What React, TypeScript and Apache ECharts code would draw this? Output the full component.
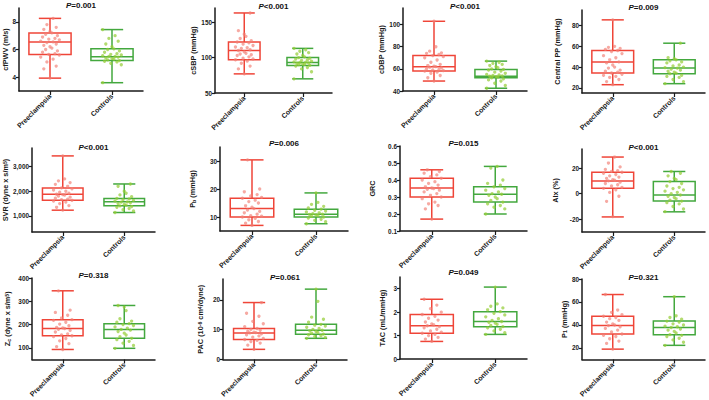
import React, { useEffect, useRef } from 'react';
import * as echarts from 'echarts';

// ---------- data ----------
const categories = ['Preeclampsia', 'Controls'];

const pOps = ['=', '<', '<', '=', '<', '=', '=', '<', '=', '=', '=', '='];
const pValues = ['0.001', '0.001', '0.001', '0.009', '0.001', '0.006', '0.015', '0.001', '0.318', '0.061', '0.049', '0.321'];

const yNames = [
  'cfPWV (m/s)',
  'cSBP (mmHg)',
  'cDBP (mmHg)',
  'Central PP (mmHg)',
  'SVR (dyne x s/m{sup|5})',
  'P{sub|b} (mmHg)',
  'GRC',
  'AIx (%)',
  'Z{sub|c} (dyne x s/m{sup|5})',
  'PAC (10{sup|-6} cm{sup|4}/dyne)',
  'TAC (mL/mmHg)',
  'P{sub|1} (mmHg)',
];

const yMin = [3, 50, 40, 15, 350, 5, 0.1, -30, 50, 0, 0, 10];
const yMax = [9, 170, 115, 95, 3750, 35, 0.6, 35, 400, 27, 3.5, 80];
const yTicks = [
  [4, 6, 8],
  [50, 100, 150],
  [40, 60, 80, 100],
  [20, 40, 60, 80],
  [1000, 2000, 3000],
  [10, 20, 30],
  [0.1, 0.2, 0.3, 0.4, 0.5, 0.6],
  [-20, 0, 20],
  [100, 200, 300, 400],
  [0, 10, 20],
  [0, 1, 2, 3],
  [20, 40, 60, 80],
];

// box stats: [min, Q1, median, Q3, max] for Preeclampsia, Controls
const boxPre = [
  [3.93, 5.64, 6.55, 7.19, 8.25],
  [77, 97, 110, 122, 163],
  [49, 58, 62, 72, 103],
  [23, 34.3, 44.8, 56, 85.5],
  [1233, 1633, 1878, 2135, 3430],
  [7, 10, 13, 16.7, 30.4],
  [0.17, 0.3, 0.353, 0.41, 0.46],
  [-18.2, 4.2, 10, 16.8, 28.7],
  [93, 152, 183, 221, 345],
  [3.4, 6.7, 8.9, 10.4, 19.1],
  [0.75, 1.1, 1.42, 1.9, 2.55],
  [19, 32.2, 39.5, 47.6, 66.5],
];
const boxCtrl = [
  [3.6, 5.2, 5.47, 6.05, 7.44],
  [70, 89, 93, 100, 113],
  [42.5, 52, 53.4, 59.5, 67],
  [24, 33.6, 39, 47, 63],
  [1139, 1408, 1571, 1710, 2294],
  [7.6, 10, 11, 12.8, 18.6],
  [0.2, 0.27, 0.316, 0.36, 0.48],
  [-14.2, -5.8, -1, 9.5, 17.4],
  [98, 141, 179, 204, 282],
  [7.1, 8.5, 9.8, 11.8, 23.6],
  [1.05, 1.38, 1.6, 2.02, 3.07],
  [22.3, 31.6, 37.8, 43.4, 64.6],
];

const ptsPre = [
  [3.93, 4.6, 4.8, 5.1, 5.3, 5.45, 5.6, 5.65, 5.7, 5.8, 5.9, 6.0, 6.1, 6.2, 6.3, 6.4, 6.5, 6.55, 6.6, 6.7, 6.75, 6.8, 6.9, 7.0, 7.1, 7.2, 7.3, 7.45, 7.6, 7.8, 8.25],
  [77, 84, 88, 92, 95, 97, 98, 99, 101, 103, 104, 105, 106, 108, 110, 111, 113, 114, 115, 117, 119, 121, 122, 124, 127, 130, 133, 138, 163],
  [49, 52, 54, 56, 57, 58, 58.5, 59, 59.5, 60, 61, 61.5, 62, 62.5, 63, 64, 66, 68, 70, 71, 72, 73, 74, 74.5, 76, 80, 103],
  [23, 26, 28, 30, 31, 32, 33, 34.3, 35, 36, 37, 39, 40, 42, 44, 45, 47, 49, 51, 53, 55, 56, 57, 58, 59, 60, 85.5],
  [1233, 1350, 1420, 1500, 1560, 1600, 1633, 1660, 1680, 1720, 1760, 1800, 1840, 1860, 1878, 1920, 1960, 2000, 2050, 2100, 2135, 2200, 2280, 2350, 2420, 2500, 3430],
  [7, 7.8, 8.4, 9, 9.5, 10, 10.3, 10.5, 11, 11.5, 12, 12.5, 13, 13.5, 14, 15, 15.5, 16, 16.7, 17, 17.5, 18, 19, 20, 30.4],
  [0.17, 0.23, 0.25, 0.26, 0.27, 0.29, 0.3, 0.31, 0.32, 0.33, 0.34, 0.345, 0.35, 0.353, 0.36, 0.37, 0.38, 0.39, 0.4, 0.41, 0.42, 0.43, 0.44, 0.45, 0.46],
  [-18, -6, -2, 1, 3, 4.2, 5, 6, 7, 8, 9, 10, 10.5, 11, 12, 13, 14, 15, 16, 16.8, 17.5, 18, 19, 21, 24, 28.7],
  [93, 105, 118, 130, 140, 148, 152, 156, 160, 168, 175, 180, 183, 186, 188, 195, 202, 210, 218, 221, 228, 240, 252, 262, 345],
  [3.4, 4.8, 5.5, 6, 6.4, 6.7, 7.1, 7.5, 7.9, 8.3, 8.6, 8.9, 9.0, 9.2, 9.5, 9.8, 10.1, 10.4, 11, 12, 12.8, 14.5, 15.5, 19.1],
  [0.75, 0.85, 0.92, 1.0, 1.05, 1.1, 1.15, 1.2, 1.27, 1.33, 1.38, 1.42, 1.46, 1.5, 1.58, 1.66, 1.74, 1.82, 1.9, 2.0, 2.15, 2.3, 2.55],
  [19, 24, 26, 28, 30, 31, 32.2, 34, 35.5, 37, 38.5, 39.5, 40, 41, 42.5, 44, 45.5, 46.5, 47.6, 49, 51, 53, 66.5],
];
const ptsCtrl = [
  [3.6, 4.9, 5.0, 5.1, 5.15, 5.2, 5.25, 5.3, 5.35, 5.4, 5.45, 5.5, 5.5, 5.55, 5.6, 5.65, 5.7, 5.8, 5.9, 6.0, 6.05, 6.2, 6.4, 6.6, 6.8, 7.0, 7.44],
  [70, 80, 84, 86, 88, 89, 90, 90.5, 91, 92, 92.5, 93, 93.5, 94, 95, 96, 97, 98, 99, 100, 101, 103, 105, 107, 109, 111, 113],
  [42.5, 45, 47, 49, 50, 51, 52, 52.5, 53, 53.3, 53.6, 54, 54.5, 55, 56, 57, 58, 59, 59.5, 60, 61, 62, 63, 64, 65, 66, 67],
  [24, 26, 28, 30, 31, 32, 33.6, 34, 35, 36, 37, 38, 39, 39.5, 40, 41, 42, 44, 45, 46, 47, 48, 49, 63],
  [1139, 1200, 1250, 1300, 1350, 1380, 1408, 1440, 1470, 1500, 1530, 1560, 1571, 1600, 1630, 1660, 1690, 1710, 1780, 1850, 1920, 2000, 2200, 2294],
  [7.6, 8.3, 8.8, 9.2, 9.6, 10, 10.2, 10.5, 10.7, 10.9, 11, 11.2, 11.5, 11.8, 12.1, 12.4, 12.8, 13.2, 13.8, 14.5, 15.2, 18.6],
  [0.2, 0.23, 0.24, 0.25, 0.26, 0.27, 0.28, 0.29, 0.3, 0.31, 0.316, 0.32, 0.33, 0.34, 0.35, 0.36, 0.37, 0.38, 0.4, 0.47, 0.48],
  [-14, -12, -10, -8, -7, -5.8, -5, -4, -3, -2, -1, 0, 1, 2, 3, 4, 5, 6, 8, 9.5, 11, 12, 14, 16, 17.4],
  [98, 110, 120, 128, 135, 141, 148, 155, 163, 170, 176, 179, 184, 190, 196, 200, 204, 210, 215, 225, 260, 275, 282],
  [7.1, 7.4, 7.7, 8, 8.3, 8.5, 8.8, 9.1, 9.4, 9.6, 9.8, 10.1, 10.4, 10.8, 11.2, 11.5, 11.8, 12.5, 13.5, 14.2, 19.5, 23.6],
  [1.05, 1.12, 1.2, 1.27, 1.33, 1.38, 1.43, 1.48, 1.53, 1.57, 1.6, 1.65, 1.72, 1.8, 1.88, 1.95, 2.02, 2.1, 2.18, 2.25, 2.35, 3.07],
  [22.3, 25, 27, 28.5, 30, 31, 31.6, 33, 34.5, 35.5, 36.5, 37.8, 38.5, 39, 40, 41, 42.5, 43.4, 45, 46.5, 48, 64.6],
];

// ---------- layout / style ----------
const layout = [
  { l: 19, t: 8, r: 143, b: 91, gap: 8, ty: 5, bw: 0.34 },
  { l: 215, t: 8, r: 332, b: 93, gap: 16, ty: 6, bw: 0.27 },
  { l: 403, t: 8, r: 527, b: 91, gap: 17, ty: 6, bw: 0.34 },
  { l: 582, t: 10, r: 705, b: 93, gap: 21, ty: 7, bw: 0.34 },
  { l: 32, t: 148, r: 155, b: 232, gap: 21, ty: 147, bw: 0.33 },
  { l: 220, t: 147, r: 348, b: 231, gap: 24, ty: 143, bw: 0.34 },
  { l: 400, t: 146, r: 527, b: 231, gap: 24, ty: 143, bw: 0.34 },
  { l: 582, t: 149, r: 705, b: 232, gap: 23, ty: 147, bw: 0.34 },
  { l: 32, t: 278, r: 155, b: 360, gap: 21, ty: 275, bw: 0.33 },
  { l: 223, t: 279, r: 347, b: 361, gap: 19, ty: 277, bw: 0.33 },
  { l: 400, t: 277, r: 527, b: 359, gap: 14, ty: 272, bw: 0.34 },
  { l: 582, t: 279, r: 705, b: 361, gap: 14, ty: 277, bw: 0.34 },
];

const FONT = '"Liberation Sans", Arial, Helvetica, sans-serif';
const boxColors = ['#EF4538', '#43A83E'];
const dotColors = ['rgba(242,128,118,0.85)', 'rgba(150,205,55,0.9)'];
const AX = '#1a1a1a';
const jitter = [0, -0.1, 0.1, -0.05, 0.05, -0.15, 0.15, -0.02, 0.08, -0.12, 0.12, -0.07, 0.03];

function buildOption() {
  const grid: any[] = [];
  const xAxis: any[] = [];
  const yAxis: any[] = [];
  const series: any[] = [];
  const graphic: any[] = [];

  layout.forEach((L, i) => {
    grid.push({ left: L.l, top: L.t, width: L.r - L.l, height: L.b - L.t, containLabel: false });
    xAxis.push({
      type: 'category',
      gridIndex: i,
      data: categories,
      boundaryGap: true,
      axisLine: { show: true, onZero: false, lineStyle: { color: AX, width: 1.5 } },
      axisTick: { show: true, alignWithLabel: true, length: 4, lineStyle: { color: AX, width: 1.2 } },
      axisLabel: { rotate: 45, fontSize: 7, fontWeight: 'bold', color: AX, margin: 4, fontFamily: FONT },
      splitLine: { show: false },
    });
    xAxis.push({ type: 'value', gridIndex: i, min: -0.5, max: 1.5, show: false });
    yAxis.push({
      type: 'value',
      gridIndex: i,
      min: yMin[i],
      max: yMax[i],
      axisLine: { show: true, onZero: false, lineStyle: { color: AX, width: 1.5 } },
      axisTick: { show: true, length: 3, customValues: yTicks[i], lineStyle: { color: AX, width: 1.2 } },
      axisLabel: { customValues: yTicks[i], fontSize: 6.4, fontWeight: 'bold', color: AX, margin: 3, fontFamily: FONT },
      splitLine: { show: false },
      name: yNames[i],
      nameLocation: 'middle',
      nameRotate: 90,
      nameGap: L.gap,
      nameTextStyle: {
        fontSize: 7.3,
        fontWeight: 'bold',
        color: AX,
        fontFamily: FONT,
        rich: {
          sup: { fontSize: 5.2, fontWeight: 'bold', color: AX, fontFamily: FONT, verticalAlign: 'top', lineHeight: 5 },
          sub: { fontSize: 5.2, fontWeight: 'bold', color: AX, fontFamily: FONT, verticalAlign: 'bottom', lineHeight: 5 },
        },
      },
    });

    const bw = L.bw;
    series.push({
      type: 'custom',
      xAxisIndex: 2 * i + 1,
      yAxisIndex: i,
      clip: false,
      z: 2,
      encode: { x: 0, y: [1, 2, 3, 4, 5] },
      data: [
        [0, ...boxPre[i]],
        [1, ...boxCtrl[i]],
      ],
      renderItem: (params: any, api: any) => {
        const gi = api.value(0);
        const v = [1, 2, 3, 4, 5].map((k) => api.value(k));
        const p = v.map((val) => api.coord([gi, val]));
        const unit = api.size([1, 0])[0];
        const cx = p[0][0];
        const hb = unit * bw;
        const hc = unit * 0.18;
        const st = { stroke: boxColors[gi], lineWidth: 1.5, fill: 'none' };
        return {
          type: 'group',
          children: [
            { type: 'line', shape: { x1: cx, y1: p[4][1], x2: cx, y2: p[3][1] }, style: st },
            { type: 'line', shape: { x1: cx, y1: p[1][1], x2: cx, y2: p[0][1] }, style: st },
            { type: 'line', shape: { x1: cx - hc, y1: p[4][1], x2: cx + hc, y2: p[4][1] }, style: st },
            { type: 'line', shape: { x1: cx - hc, y1: p[0][1], x2: cx + hc, y2: p[0][1] }, style: st },
            { type: 'rect', shape: { x: cx - hb, y: p[3][1], width: 2 * hb, height: p[1][1] - p[3][1] }, style: st },
            { type: 'line', shape: { x1: cx - hb, y1: p[2][1], x2: cx + hb, y2: p[2][1] }, style: st },
          ],
        };
      },
    });

    [ptsPre[i], ptsCtrl[i]].forEach((arr, gi) => {
      series.push({
        type: 'scatter',
        xAxisIndex: 2 * i + 1,
        yAxisIndex: i,
        z: 3,
        symbol: 'circle',
        symbolSize: 3.3,
        itemStyle: { color: dotColors[gi] },
        data: arr.map((val, k) => [gi + jitter[(k + gi * 5) % jitter.length], val]),
      });
    });

    graphic.push({
      type: 'text',
      x: (L.l + L.r) / 2,
      y: L.ty,
      style: {
        text: '{i|P}{n|' + pOps[i] + pValues[i] + '}',
        align: 'center',
        verticalAlign: 'middle',
        rich: {
          i: { fontSize: 8, fontWeight: 'bold', fontStyle: 'italic', fill: '#111', fontFamily: FONT },
          n: { fontSize: 8, fontWeight: 'bold', fill: '#111', fontFamily: FONT },
        },
      },
    });
  });

  return {
    animation: false,
    backgroundColor: '#fff',
    grid,
    xAxis,
    yAxis,
    series,
    graphic,
  };
}

export default function App() {
  const ref = useRef<HTMLDivElement>(null);
  useEffect(() => {
    if (!ref.current) return;
    const chart = echarts.init(ref.current, undefined, { renderer: 'svg' });
    chart.setOption(buildOption() as any);
    return () => chart.dispose();
  }, []);
  return (
    <div
      ref={ref}
      style={{ position: 'absolute', left: 0, top: 0, width: 709, height: 400, background: '#fff' }}
    />
  );
}
